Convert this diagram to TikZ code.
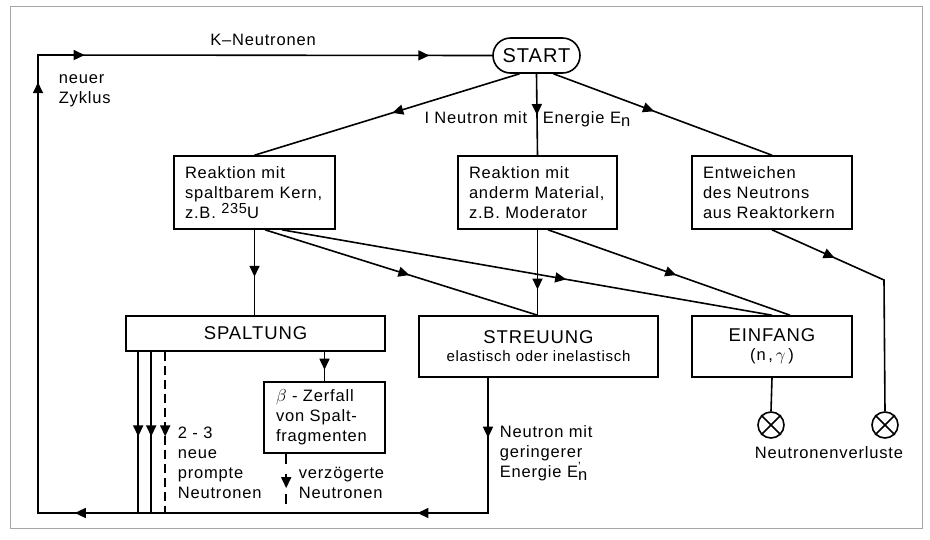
\documentclass[tikz,border=0pt]{standalone}
\usepackage{fontspec}
\setmainfont{Liberation Sans}[LetterSpace=5]
\usetikzlibrary{arrows.meta,decorations.markings,shapes.misc,calc}
\begin{document}
\begin{tikzpicture}[x=1pt,y=-1pt,line width=1.6pt,
  >={Triangle[length=11pt,width=10pt]},
  arr/.style={postaction={decorate,decoration={markings,mark=at position #1 with {\arrow{>}}}}},
  box/.style={draw,rectangle,inner sep=0pt,line width=1.6pt},
  lbox/.style={box,align=left,font=\fontsize{16.5}{20}\selectfont},
  big/.style={font=\fontsize{18.5}{22}\selectfont},
  lbl/.style={inner sep=0pt,align=left,font=\fontsize{16.5}{20}\selectfont},
  xc/.style={draw,circle,minimum size=26pt,inner sep=0pt,line width=1.6pt}]
\useasboundingbox (0,0) rectangle (930,539);
\draw[gray!70,line width=1pt] (10,6) rectangle (922,528);

% nodes
\node[draw,rounded rectangle,minimum width=87pt,minimum height=35pt,inner sep=0pt,
      font=\fontsize{20}{22}\selectfont] (start) at (536.5,55.5) {START};
\node[lbox,minimum width=161pt,minimum height=73pt,text width=139pt,inner xsep=11pt] (boxA) at (254.5,192.5)
  {Reaktion mit\\spaltbarem Kern,\\z.B. \raisebox{5pt}{\fontsize{14.5}{14}\selectfont 235}U};
\node[lbox,minimum width=159pt,minimum height=73pt,text width=137pt,inner xsep=11pt] (boxB) at (537.5,192.5)
  {Reaktion mit\\anderm Material,\\z.B. Moderator};
\node[lbox,minimum width=160pt,minimum height=73pt,text width=138pt,inner xsep=11pt] (boxC) at (772,192.5)
  {Entweichen\\des Neutrons\\aus Reaktorkern};
\node[box,big,minimum width=259pt,minimum height=35pt] (spalt) at (255.5,333.5) {SPALTUNG};
\node[box,minimum width=239pt,minimum height=61pt,align=center] (streu) at (538.5,346.5)
  {{\fontsize{18.5}{22}\selectfont STREUUNG}\\[6pt]{\fontsize{15}{16}\selectfont elastisch oder inelastisch}};
\node[box,minimum width=160pt,minimum height=61pt,align=center] (einf) at (772,346.5)
  {{\fontsize{18.5}{22}\selectfont EINFANG}\\[6pt]{\fontsize{16.5}{18}\selectfont (n\,,\,$\gamma$\,)}};
\node[lbox,minimum width=121pt,minimum height=71pt,text width=97pt,inner xsep=12pt] (beta) at (324.5,417.5)
  {$\beta$ - Zerfall\\von Spalt-\\fragmenten};
\node[xc] (c1) at (771,425) {};
\node[xc] (c2) at (885,425) {};
\draw (c1.north east) -- (c1.south west) (c1.north west) -- (c1.south east);
\draw (c2.north east) -- (c2.south west) (c2.north west) -- (c2.south east);

\coordinate (tl) at (38,55);
\coordinate (bl) at (38,513);
\coordinate (br) at (488,513);
\coordinate (kr) at (884,280);

% labels (base anchor = baseline of last line)
\node[lbl,anchor=base] (kn) at (263,45) {K–Neutronen};
\node[lbl,anchor=base west] (zy) at (58,103) {neuer\\Zyklus};
\node[lbl,anchor=base east] (l1) at (528,123) {I Neutron mit};
\node[lbl,anchor=base west] (l2) at (542,123) {Energie E\raisebox{-3pt}{n}};
\node[lbl,anchor=base west] (pr) at (177,498) {2 - 3\\neue\\prompte\\Neutronen};
\node[lbl,anchor=base west] (vz) at (298,498) {verzögerte\\Neutronen};
\node[lbl,anchor=base west] (ge) at (499,477) {Neutron mit\\geringerer\\Energie E\rlap{\raisebox{7pt}{\fontsize{12}{12}\selectfont '}}\raisebox{-3pt}{n}};
\node[lbl,anchor=base] (nv) at (829,458) {Neutronenverluste};

% connectors
\draw[line cap=rect,arr=0.040,arr=0.1374,arr=0.3662,arr=0.6785,arr=0.7278,arr=0.958]
  (streu.south -| br) -- (br) -- (bl) -- (tl) -- (start.west);
\draw[arr=0.48] ($(start.south)+(-17,0)$) -- (boxA.north);
\draw[arr=0.506] (start.south) -- (boxB.north);
\draw[arr=0.46] ($(start.south)+(17,0)$) -- (boxC.north);
\draw[arr=0.55] (boxA.south) -- (boxA.south |- spalt.north);
\draw[arr=0.53] ($(boxA.south)+(10.5,0)$) -- (boxB.south |- streu.north);
\draw[arr=0.58] ($(boxA.south)+(27.5,0)$) -- (einf.north);
\draw[arr=0.53] ($(boxB.south)+(10.5,0)$) -- ($(einf.north)+(18,0)$);
\draw[arr=0.70] (boxB.south) -- (boxB.south |- streu.north);
\draw[arr=0.27] (boxC.south) -- (kr) -- (c2.north);
\draw (einf.south) -- (c1.north);
\draw[arr=0.525] ($(spalt.south west)+(13,0)$) coordinate (p1) -- (p1 |- br);
\draw[arr=0.525] ($(spalt.south west)+(26,0)$) coordinate (p2) -- (p2 |- br);
\draw[dash pattern=on 9pt off 5pt,arr=0.525] ($(spalt.south west)+(40,0)$) coordinate (p3) -- (p3 |- br);
\draw[arr=0.61] (beta.north |- spalt.south) -- (beta.north);
\draw[dash pattern=on 10pt off 10pt,arr=0.58] ($(beta.south west)+(23,0)$) coordinate (q) -- (q |- br);
\end{tikzpicture}
\end{document}
